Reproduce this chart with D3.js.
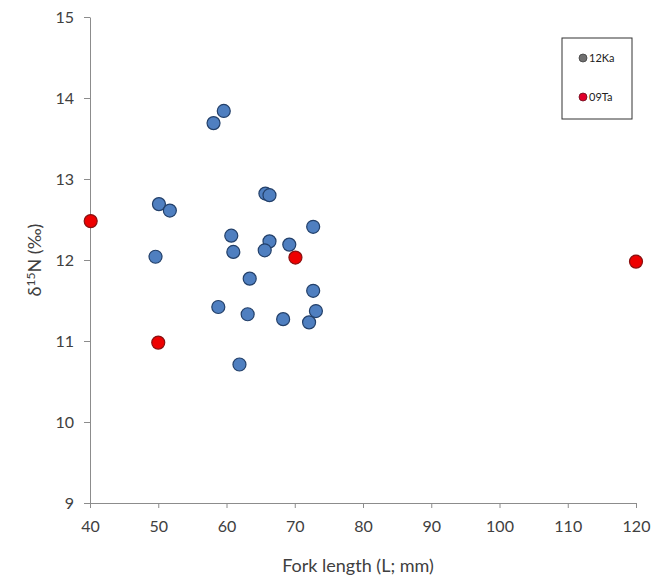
<!DOCTYPE html>
<html>
<head>
<meta charset="utf-8">
<script src="https://cdn.jsdelivr.net/npm/d3@7"></script>
<style>
  html, body { margin: 0; padding: 0; background: #fff; }
  svg { display: block; font-family: Lato, "Open Sans", sans-serif; }
</style>
</head>
<body>
<svg id="chart" width="656" height="580"></svg>
<script>
// Fork length (mm) and δ15N (‰) for the two groups
const seriesNames = ["12Ka", "09Ta"];
const ka12Length = [59.6, 58.1, 50.1, 51.7, 49.6, 65.7, 66.3, 60.7, 61.0, 66.3, 65.6, 69.2, 72.7, 63.4, 58.8, 63.1, 68.3, 72.7, 73.1, 72.1, 61.9];
const ka12N15    = [13.84, 13.69, 12.69, 12.61, 12.04, 12.82, 12.80, 12.30, 12.10, 12.23, 12.12, 12.19, 12.41, 11.77, 11.42, 11.33, 11.27, 11.62, 11.37, 11.23, 10.71];
const ta09Length = [40.1, 70.1, 50.0, 120.0];
const ta09N15    = [12.48, 12.03, 10.98, 11.98];
const xTicks = [40, 50, 60, 70, 80, 90, 100, 110, 120];
const yTicks = [9, 10, 11, 12, 13, 14, 15];

const svg = d3.select("#chart");
const margin = { left: 90, right: 20, top: 17, bottom: 77 };
const W = 656, H = 580;

const x = d3.scaleLinear().domain([40, 120]).range([margin.left, W - margin.right]);
const y = d3.scaleLinear().domain([9, 15]).range([H - margin.bottom, margin.top]);

const axisColor = "#8c8c8c";
const textColor = "#404040";

// axes
const gx = svg.append("g")
  .attr("transform", `translate(0,${y(9)})`)
  .call(d3.axisBottom(x).tickValues(xTicks).tickFormat(d3.format("d"))
    .tickSize(5).tickPadding(13).tickSizeOuter(0));
const gy = svg.append("g")
  .attr("transform", `translate(${x(40)},0)`)
  .call(d3.axisLeft(y).tickValues(yTicks).tickFormat(d3.format("d"))
    .tickSize(6).tickPadding(10).tickSizeOuter(0));

[gx, gy].forEach(g => {
  g.select(".domain").attr("stroke", axisColor).attr("stroke-width", 1);
  g.selectAll(".tick line").attr("stroke", axisColor);
  g.selectAll(".tick text").attr("fill", textColor).attr("font-size", 16)
    .attr("font-family", "Lato, 'Open Sans', sans-serif");
});

// axis titles
svg.append("text")
  .attr("x", (x(40) + x(120)) / 2 - 5).attr("y", 572)
  .attr("text-anchor", "middle").attr("fill", textColor).attr("font-size", 18)
  .text("Fork length (L; mm)");

const yt = svg.append("text")
  .attr("transform", `translate(41,${y(12)}) rotate(-90)`)
  .attr("text-anchor", "middle").attr("fill", textColor).attr("font-size", 18);
yt.append("tspan").text("δ");
yt.append("tspan").attr("font-size", 12).attr("dy", -6).text("15");
yt.append("tspan").attr("dy", 6).text("N (‰)");

// points
const ka = ka12Length.map((v, i) => ({ L: v, N: ka12N15[i] }));
const ta = ta09Length.map((v, i) => ({ L: v, N: ta09N15[i] }));

svg.append("g").selectAll("circle").data(ka).join("circle")
  .attr("cx", d => x(d.L)).attr("cy", d => y(d.N)).attr("r", 6.5)
  .attr("fill", "#4f7fc0").attr("stroke", "#23406a").attr("stroke-width", 1.2);

svg.append("g").selectAll("circle").data(ta).join("circle")
  .attr("cx", d => x(d.L)).attr("cy", d => y(d.N)).attr("r", 6.5)
  .attr("fill", "#ee0000").attr("stroke", "#8a1010").attr("stroke-width", 1.2);

// legend
const lg = svg.append("g").attr("transform", "translate(562,38)");
lg.append("rect").attr("width", 70).attr("height", 81)
  .attr("fill", "#fff").attr("stroke", "#333").attr("stroke-width", 1);
const legendColors = [["#707070", "#404040"], ["#e0002a", "#6a1020"]];
seriesNames.forEach((name, i) => {
  const row = lg.append("g").attr("transform", `translate(21,${20 + i * 39})`);
  row.append("circle").attr("r", 4).attr("fill", legendColors[i][0])
    .attr("stroke", legendColors[i][1]).attr("stroke-width", 0.8);
  row.append("text").attr("x", 6).attr("y", 4).attr("font-size", 11)
    .attr("fill", "#222").text(name);
});
</script>
</body>
</html>
